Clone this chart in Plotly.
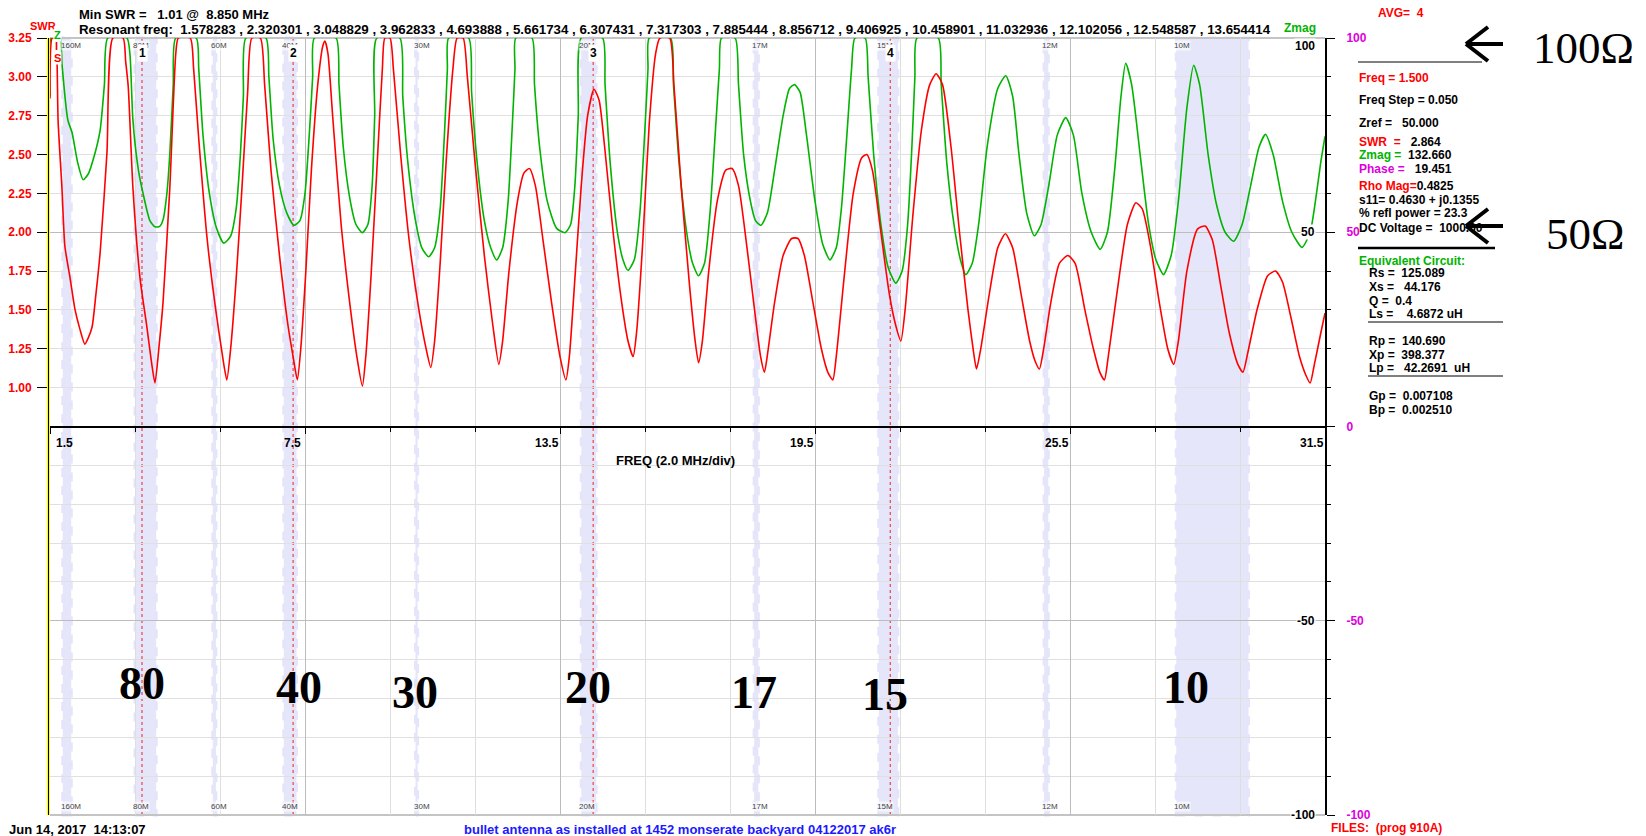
import plotly.graph_objects as go

# ---------------- data ----------------
# SWR sweep (red), frequency in MHz
swr_freq = [
    1.50, 1.55, 1.62, 1.66, 1.69, 1.78, 1.85, 1.97, 2.09, 2.20, 2.32,
    2.40, 2.49, 2.58, 2.68, 2.84, 2.98, 3.22, 3.28, 3.34, 3.45, 3.62, 3.78, 3.88, 3.97,
    4.06, 4.16, 4.32, 4.46, 4.52, 4.80, 4.88, 5.00, 5.20, 5.40, 5.55, 5.66,
    5.75, 5.88, 6.02, 6.15, 6.25, 6.45, 6.55, 6.70, 6.90, 7.10, 7.22, 7.32,
    7.40, 7.52, 7.65, 7.80, 7.92, 7.97, 8.04, 8.15, 8.35, 8.55, 8.72, 8.85,
    8.93, 9.05, 9.20, 9.32, 9.38, 9.50, 9.58, 9.75, 9.95, 10.18, 10.35, 10.46,
    10.55, 10.68, 10.82, 10.98, 11.08, 11.22, 11.32, 11.50, 11.72, 11.92, 12.06,
    12.15, 12.30, 12.50, 12.65, 12.78, 12.92, 13.10, 13.30, 13.50, 13.64,
    13.72, 13.85, 14.00, 14.15, 14.30, 14.42, 14.55, 14.75, 14.95, 15.10, 15.22,
    15.30, 15.45, 15.60, 15.75, 15.85, 16.08, 16.18, 16.35, 16.55, 16.68, 16.76,
    16.85, 17.00, 17.20, 17.40, 17.55, 17.70, 17.90, 18.10, 18.22, 18.31,
    18.40, 18.55, 18.75, 18.95, 19.10, 19.25, 19.45, 19.65, 19.80, 19.92,
    20.00, 20.20, 20.40, 20.60, 20.72, 20.85, 21.05, 21.25, 21.40, 21.52,
    21.62, 21.80, 22.00, 22.20, 22.35, 22.50, 22.70, 22.90, 23.10, 23.22, 23.30,
    23.40, 23.60, 23.80, 23.98, 24.15, 24.35, 24.55, 24.68, 24.78,
    24.88, 25.05, 25.25, 25.45, 25.62, 25.85, 26.05, 26.20, 26.31,
    26.40, 26.60, 26.85, 27.05, 27.20, 27.40, 27.60, 27.80, 27.94,
    28.05, 28.25, 28.50, 28.68, 28.85, 29.05, 29.25, 29.45, 29.57,
    29.68, 29.90, 30.15, 30.34, 30.50, 30.70, 30.90, 31.05, 31.15, 31.25, 31.40, 31.50,
]
swr_values = [
    2.86, 3.25, 3.25, 3.15, 2.72, 2.29, 1.91, 1.71, 1.50, 1.38, 1.28,
    1.32, 1.39, 1.60, 1.87, 2.51, 3.25, 3.25, 3.10, 2.94, 2.29, 1.70, 1.39, 1.18, 1.03,
    1.25, 1.55, 2.29, 3.15, 3.25, 3.25, 3.05, 2.60, 1.95, 1.50, 1.22, 1.05,
    1.25, 1.70, 2.30, 2.90, 3.25, 3.25, 2.95, 2.40, 1.85, 1.40, 1.20, 1.05,
    1.25, 1.75, 2.40, 2.95, 3.20, 3.23, 3.15, 2.75, 2.05, 1.55, 1.20, 1.01,
    1.20, 1.70, 2.45, 3.05, 3.25, 3.25, 3.05, 2.50, 1.95, 1.50, 1.25, 1.13,
    1.30, 1.80, 2.45, 3.05, 3.25, 3.25, 3.00, 2.45, 1.85, 1.40, 1.15,
    1.30, 1.75, 2.20, 2.38, 2.41, 2.30, 1.95, 1.55, 1.20, 1.05,
    1.20, 1.70, 2.30, 2.75, 2.92, 2.85, 2.55, 2.00, 1.55, 1.30, 1.20,
    1.35, 1.95, 2.70, 3.15, 3.25, 3.25, 2.95, 2.30, 1.65, 1.30, 1.16,
    1.30, 1.75, 2.20, 2.40, 2.41, 2.30, 1.90, 1.45, 1.20, 1.10,
    1.25, 1.55, 1.85, 1.96, 1.96, 1.85, 1.55, 1.25, 1.10, 1.05,
    1.20, 1.75, 2.25, 2.48, 2.50, 2.40, 2.00, 1.60, 1.40, 1.30,
    1.50, 2.10, 2.65, 2.95, 3.02, 2.95, 2.55, 2.00, 1.50, 1.25, 1.12,
    1.25, 1.60, 1.90, 1.99, 1.90, 1.60, 1.30, 1.17, 1.12,
    1.25, 1.55, 1.80, 1.85, 1.80, 1.50, 1.25, 1.10, 1.05,
    1.20, 1.60, 2.05, 2.19, 2.15, 1.90, 1.55, 1.25, 1.15,
    1.30, 1.75, 2.02, 2.04, 1.95, 1.65, 1.35, 1.15, 1.10,
    1.22, 1.50, 1.72, 1.75, 1.68, 1.45, 1.20, 1.08, 1.03, 1.15, 1.35, 1.48,
]

# |Z| sweep (green), ohms, clipped at 100 on the chart
zmag_freq = [
    1.50, 1.53, 1.74, 1.78, 1.92, 2.02, 2.15, 2.28,
    2.40, 2.55, 2.68, 2.78, 2.86, 3.31, 3.38, 3.45, 3.58, 3.69, 3.85, 3.97,
    4.08, 4.16, 4.25, 4.32, 4.40, 4.46, 4.94, 5.00, 5.10, 5.25, 5.42, 5.59,
    5.75, 5.88, 5.98, 6.05, 6.11, 6.58, 6.65, 6.75, 6.90, 7.07, 7.24,
    7.38, 7.50, 7.60, 7.68, 7.72, 8.23, 8.30, 8.40, 8.55, 8.70, 8.85,
    8.98, 9.08, 9.14, 9.19, 9.73, 9.80, 9.92, 10.10, 10.25, 10.41,
    10.55, 10.68, 10.78, 10.85, 10.88, 11.35, 11.42, 11.55, 11.72, 11.87, 12.01,
    12.15, 12.28, 12.38, 12.44, 12.46, 12.84, 12.90, 13.02, 13.20, 13.42, 13.62,
    13.75, 13.85, 13.93, 14.00, 14.50, 14.56, 14.68, 14.85, 14.98, 15.10,
    15.25, 15.38, 15.50, 15.57, 15.60, 16.10, 16.17, 16.30, 16.48, 16.62, 16.76,
    16.90, 17.03, 17.15, 17.25, 17.30, 17.62, 17.70, 17.82, 17.98, 18.10, 18.23,
    18.38, 18.55, 18.75, 18.90, 19.02, 19.15, 19.30, 19.50, 19.68, 19.85,
    20.00, 20.12, 20.25, 20.36, 20.44, 20.68, 20.75, 20.88, 21.05, 21.22, 21.40,
    21.55, 21.68, 21.78, 21.85, 21.90, 22.40, 22.47, 22.60, 22.77, 22.92, 23.05,
    23.20, 23.35, 23.55, 23.80, 23.99, 24.15, 24.30, 24.48, 24.66,
    24.82, 25.00, 25.20, 25.40, 25.58, 25.78, 26.00, 26.21,
    26.38, 26.55, 26.70, 26.81, 26.95, 27.15, 27.35, 27.52, 27.70,
    27.88, 28.05, 28.25, 28.41, 28.55, 28.75, 28.95, 29.15, 29.35,
    29.55, 29.75, 29.95, 30.10, 30.28, 30.50, 30.72, 30.96,
    31.15, 31.30, 31.40, 31.50,
]
zmag_values = [
    85, 100, 100, 93.6, 78.9, 75.6, 68, 63.5,
    65, 70, 76.3, 88, 100, 100, 96, 79, 66, 60, 53, 51.4,
    51.5, 53.2, 60, 70.4, 88, 100, 100, 92, 75, 60, 51, 47.2,
    49, 56, 70, 85, 100, 100, 90, 74, 62, 55, 51.8,
    53, 60, 75, 90, 100, 100, 88, 72, 59, 52, 49.9,
    52, 62, 80, 100, 100, 85, 68, 53, 46, 43.7,
    46, 56, 75, 92, 100, 100, 86, 68, 53, 46, 42.9,
    46, 58, 78, 92, 100, 100, 88, 72, 58, 51, 49.9,
    52, 62, 80, 100, 100, 88, 68, 50, 43, 40.2,
    43, 55, 77, 92, 100, 100, 88, 68, 50, 42, 38.8,
    42, 55, 75, 92, 100, 100, 88, 70, 58, 53, 51.8,
    55, 66, 80, 87, 88, 86, 75, 58, 47, 42.9,
    46, 56, 75, 92, 100, 100, 90, 70, 52, 41, 36.9,
    40, 52, 72, 90, 100, 100, 88, 68, 52, 43, 39.1,
    42, 52, 72, 87, 90.3, 85, 70, 55, 49.1,
    52, 62, 75, 79.5, 75, 60, 50, 45.6,
    50, 66, 85, 93.5, 88, 70, 52, 43, 39.1,
    44, 58, 82, 93.0, 88, 70, 57, 50, 47.7,
    52, 62, 72, 75.2, 70, 58, 50, 46.1,
    50, 60, 68, 74.7,
]

band_names = ["160M", "80M", "60M", "40M", "30M", "20M", "17M", "15M", "12M", "10M"]
band_lo = [1.8, 3.5, 5.33, 7.0, 10.1, 14.0, 18.068, 21.0, 24.89, 28.0]
band_hi = [2.0, 4.0, 5.405, 7.3, 10.15, 14.35, 18.168, 21.45, 24.99, 29.7]

marker_ids = ["1", "2", "3", "4"]
marker_freq = [3.665, 7.22, 14.28, 21.27]

big_band_text = ["80", "40", "30", "20", "17", "15", "10"]
big_band_freq = [3.66, 7.35, 10.09, 14.16, 18.07, 21.15, 28.23]
big_band_phase = [-66.2, -67.2, -68.5, -67.2, -68.5, -69.0, -67.2]

freq_tick_vals = [1.5, 7.5, 13.5, 19.5, 25.5, 31.5]
swr_tick_vals = [1.00, 1.25, 1.50, 1.75, 2.00, 2.25, 2.50, 2.75, 3.00, 3.25]
phase_tick_vals = [-100, -50, 0, 50, 100]
zmag_tick_vals = [100, 50, -50, -100]

resonant_freqs = ["1.578283", "2.320301", "3.048829", "3.962833", "4.693888", "5.661734",
                  "6.307431", "7.317303", "7.885444", "8.856712", "9.406925", "10.458901",
                  "11.032936", "12.102056", "12.548587", "13.654414"]

# ---------------- layout helpers ----------------
W, H = 1646, 836
L, R, T, B = 50, 1325, 38, 815
SANS = "Liberation Sans, Arial, sans-serif"
SERIF = "Liberation Serif, Times New Roman, serif"
RED = "#ff0000"
GREEN = "#00b400"
MAG = "#dd00dd"


def px(X):
    return (X - L) / (R - L)


def py(Y):
    return (B - Y) / (B - T)


def nb(s):
    return s.replace(" ", "\u00a0")


def lab(label, color, value=""):
    return f"<span style='color:{color}'>{nb(label)}</span>{nb(value)}"


ann = []
shapes = []


def text(X, Y, t, size=12, color="black", xanchor="left", family=SANS, weight="bold",
         bg="rgba(0,0,0,0)", yanchor="middle"):
    ann.append(dict(xref="paper", yref="paper", x=px(X), y=py(Y), text=t, showarrow=False,
                    xanchor=xanchor, yanchor=yanchor, bgcolor=bg, borderpad=0,
                    font=dict(family=family, size=size, color=color, weight=weight)))


def pline(X0, Y0, X1, Y1, color="black", width=1, layer="above"):
    shapes.append(dict(type="line", xref="paper", yref="paper", x0=px(X0), y0=py(Y0),
                       x1=px(X1), y1=py(Y1), line=dict(color=color, width=width), layer=layer))


fig = go.Figure()

fig.add_trace(go.Scatter(x=zmag_freq, y=zmag_values, mode="lines", yaxis="y",
                         line=dict(color=GREEN, width=1.6, shape="spline", smoothing=0.6),
                         hoverinfo="skip"))
fig.add_trace(go.Scatter(x=swr_freq, y=swr_values, mode="lines", yaxis="y2",
                         line=dict(color=RED, width=1.6, shape="spline", smoothing=0.6),
                         hoverinfo="skip"))

# amateur bands
for name, lo, hi in zip(band_names, band_lo, band_hi):
    shapes.append(dict(type="rect", xref="x", yref="paper", x0=lo, x1=hi, y0=0, y1=1,
                       fillcolor="#e6e6fa", line=dict(color="#e4e4fb", width=3, dash="dash"),
                       layer="below"))
    for Y in (45, 806):
        ann.append(dict(xref="x", yref="paper", x=lo, y=py(Y), text=name, showarrow=False,
                        xanchor="left", yanchor="middle", xshift=-3, borderpad=0,
                        bgcolor="rgba(255,255,255,0.55)",
                        font=dict(family=SANS, size=8, color="#444444")))

# markers
for mid, f in zip(marker_ids, marker_freq):
    shapes.append(dict(type="line", xref="x", yref="paper", x0=f, x1=f, y0=0, y1=1,
                       line=dict(color="#ee2020", width=1, dash="dot"), layer="between"))
    ann.append(dict(xref="x", yref="paper", x=f, y=py(53), text=mid, showarrow=False,
                    xanchor="center", yanchor="middle", bgcolor="white", borderpad=1,
                    font=dict(family=SANS, size=12, color="black", weight="bold")))

# big band numbers
for t_, f, ph in zip(big_band_text, big_band_freq, big_band_phase):
    ann.append(dict(xref="x", yref="y", x=f, y=ph, text=t_, showarrow=False,
                    xanchor="center", yanchor="middle",
                    font=dict(family=SERIF, size=46, color="black", weight="bold")))

# frequency tick labels (sit just left of their ticks)
for v in freq_tick_vals:
    ann.append(dict(xref="x", yref="paper", x=v, y=py(443), text=f"{v:.1f}", showarrow=False,
                    xanchor="center", yanchor="middle", xshift=(14 if v == freq_tick_vals[0] else -13),
                    font=dict(family=SANS, size=12, color="black", weight="bold")))
text(675, 460, "FREQ (2.0 MHz/div)", size=13, xanchor="center")

# Zmag labels inside right edge
for v in zmag_tick_vals:
    ann.append(dict(xref="paper", yref="y", x=1, y=v, text=str(v), showarrow=False,
                    xanchor="right", yanchor=("top" if v == 100 else "middle"), xshift=-9,
                    bgcolor="white", borderpad=0,
                    font=dict(family=SANS, size=12, color="black", weight="bold")))

# header
text(78, 14, nb("Min SWR =   1.01 @  8.850 MHz"), size=13)
text(78, 30, nb("Resonant freq:  " + " , ".join(resonant_freqs)), size=13.3)
text(43, 26, "SWR", size=11, color=RED, xanchor="center")
text(1300, 28, "Zmag", size=12, color=GREEN, xanchor="center")
text(1377, 13, nb("AVG=  4"), color=RED)
text(57, 35, "Z", size=11, color=GREEN, xanchor="center", bg="white")
text(56, 46, "I", size=11, color=RED, xanchor="center", bg="white")
text(57, 58, "S", size=11, color=RED, xanchor="center", bg="white")

# right info panel
X0 = 1358
text(X0, 78, lab("Freq = 1.500", RED))
text(X0, 100, nb("Freq Step = 0.050"))
text(X0, 123, nb("Zref =   50.000"))
text(X0, 142, lab("SWR  =", RED, "   2.864"))
text(X0, 155, lab("Zmag =", GREEN, "  132.660"))
text(X0, 169, lab("Phase =", MAG, "   19.451"))
text(X0, 186, lab("Rho Mag=", RED, "0.4825"))
text(X0, 200, nb("s11= 0.4630 + j0.1355"))
text(X0, 213, nb("% refl power = 23.3"))
text(X0, 228, nb("DC Voltage =  1000.00"))
text(X0, 261, "Equivalent Circuit:", color=GREEN)
X1 = 1368
text(X1, 273, nb("Rs =  125.089"))
text(X1, 287, nb("Xs =   44.176"))
text(X1, 301, nb("Q =  0.4"))
text(X1, 314, nb("Ls =    4.6872 uH"))
text(X1, 341, nb("Rp =  140.690"))
text(X1, 355, nb("Xp =  398.377"))
text(X1, 368, nb("Lp =   42.2691  uH"))
text(X1, 396, nb("Gp =  0.007108"))
text(X1, 410, nb("Bp =  0.002510"))
text(1330, 828, nb("FILES:  (prog 910A)"), color=RED)

pline(1358, 62, 1482, 62, width=1)
pline(1358, 248, 1495, 248, width=2.5)
pline(1368, 322, 1503, 322, width=1)
pline(1368, 376, 1503, 376, width=1)

# footer
text(8, 829, nb("Jun 14, 2017  14:13:07"), size=13)
text(680, 829, "bullet antenna as installed at 1452 monserate backyard 04122017 ak6r",
     size=13, color="#1a1aff", xanchor="center")

# annotation arrows and ohm labels
for Yc in (44, 226):
    pline(1467, Yc, 1503, Yc, width=4)
    pline(1466, Yc, 1488, Yc - 17, width=4)
    pline(1466, Yc, 1488, Yc + 17, width=4)
text(1532, 48, "100\u03a9", size=45, family=SERIF, weight="normal")
text(1545, 234, "50\u03a9", size=45, family=SERIF, weight="normal")

# frame lines
pline(L, T, R, T, color="#c4c4c4", width=2, layer="below")
pline(L, B, R, B, color="#c4c4c4", width=2, layer="below")
pline(L - 1.5, T, L - 1.5, B, color="black", width=1)

fig.update_layout(
    width=W, height=H, autosize=False,
    margin=dict(l=L, r=W - R, t=T, b=H - B, pad=0),
    paper_bgcolor="white", plot_bgcolor="white",
    showlegend=False,
    xaxis=dict(range=[1.5, 31.5], domain=[0, 1], anchor="free", position=0.5,
               tick0=1.5, dtick=6, showgrid=True, gridcolor="#bcbcbc", gridwidth=1,
               showticklabels=False, ticks="outside", ticklen=6, tickcolor="black",
               showline=True, linecolor="black", linewidth=2, zeroline=False,
               minor=dict(tick0=1.5, dtick=2, showgrid=True, gridcolor="#dedede",
                          ticks="outside", ticklen=4, tickcolor="black"),
               automargin=False),
    yaxis=dict(range=[-100, 100], side="right", anchor="x", tickmode="array",
               tickvals=phase_tick_vals, ticktext=[str(v) for v in phase_tick_vals],
               tickfont=dict(family=SANS, size=12, color=MAG, weight="bold"),
               ticks="outside", ticklen=8, tickcolor="black", ticklabelstandoff=9,
               showgrid=True, gridcolor="#bcbcbc", showline=True, linecolor="black",
               linewidth=2, zeroline=False,
               minor=dict(dtick=10, tick0=0, showgrid=True, gridcolor="#e0e0e0",
                          ticks="outside", ticklen=4, tickcolor="black"),
               automargin=False),
    yaxis2=dict(range=[-1.75, 3.25], overlaying="y", side="left", anchor="x",
                tickmode="array", tickvals=swr_tick_vals,
                ticktext=[f"{v:.2f}" for v in swr_tick_vals],
                tickfont=dict(family=SANS, size=12, color=RED, weight="bold"),
                ticks="outside", ticklen=10, tickcolor="black", ticklabelstandoff=3,
                showgrid=False, zeroline=False, showline=True, linecolor="#ffff00",
                linewidth=3, automargin=False),
    shapes=shapes,
    annotations=ann,
)

fig.write_html("out.html", config={"displayModeBar": False},
               post_script="document.body.style.margin='0';document.body.style.overflow='hidden';")
